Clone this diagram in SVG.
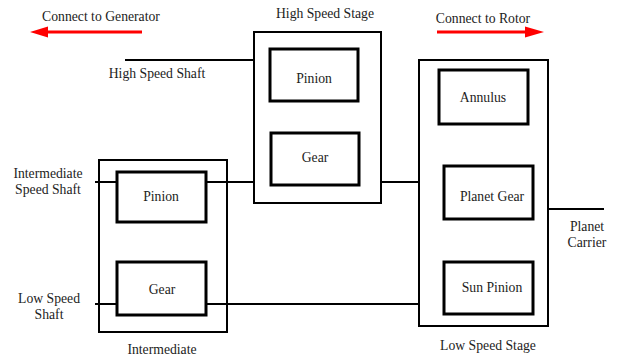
<svg xmlns="http://www.w3.org/2000/svg" width="619" height="358" viewBox="0 0 619 358" font-family="Liberation Serif, Times New Roman, serif">
<style>
text{font-family:"Liberation Serif","Times New Roman",Times,serif;font-size:13.7px;fill:#222;text-anchor:middle}
.outer{fill:none;stroke:#000;stroke-width:2}
.inner{fill:none;stroke:#000;stroke-width:3}
.shaft{stroke:#000;stroke-width:2;fill:none}
.red{stroke:#f00;stroke-width:3;fill:none}
</style>
<rect width="619" height="358" fill="#fff"/>
<g id="connectors">
<line class="shaft" x1="125" y1="60" x2="254" y2="60"/>
<line class="shaft" x1="95" y1="182" x2="117" y2="182"/>
<line class="shaft" x1="206" y1="182" x2="254" y2="182"/>
<line class="shaft" x1="95" y1="304" x2="117" y2="304"/>
<line class="shaft" x1="206" y1="304" x2="419" y2="304"/>
<line class="shaft" x1="381" y1="182" x2="419" y2="182"/>
<line class="shaft" x1="548" y1="209" x2="604" y2="209"/>
</g>
<g id="arrow-generator">
<line class="red" x1="142" y1="32" x2="46" y2="32"/>
<polygon points="30,32 48,26.5 48,37.5" fill="#f00"/>
<text x="101" y="21">Connect to Generator</text>
</g>
<g id="arrow-rotor">
<line class="red" x1="437" y1="32" x2="527" y2="32"/>
<polygon points="544,32 525,26.5 525,37.5" fill="#f00"/>
<text x="483" y="23">Connect to Rotor</text>
</g>
<g id="high-speed-stage">
<rect class="outer" x="254" y="32" width="127" height="171"/>
<text x="325" y="18">High Speed Stage</text>
</g>
<g id="hs-pinion">
<rect class="inner" x="270" y="49" width="88" height="52"/>
<text x="314" y="83">Pinion</text>
</g>
<g id="hs-gear">
<rect class="inner" x="271" y="133" width="88" height="52"/>
<text x="315" y="162">Gear</text>
</g>
<g id="intermediate-stage">
<rect class="outer" x="99" y="160" width="128" height="172"/>
<text x="162" y="354">Intermediate</text>
</g>
<g id="int-pinion">
<rect class="inner" x="117" y="172" width="89" height="50"/>
<text x="161" y="201">Pinion</text>
</g>
<g id="int-gear">
<rect class="inner" x="117" y="262" width="89" height="53"/>
<text x="162" y="294">Gear</text>
</g>
<g id="low-speed-stage">
<rect class="outer" x="419" y="60" width="129" height="266"/>
<text x="488" y="350">Low Speed Stage</text>
</g>
<g id="annulus">
<rect class="inner" x="439" y="70" width="89" height="54"/>
<text x="483" y="102">Annulus</text>
</g>
<g id="planet-gear">
<rect class="inner" x="444" y="166" width="89" height="53"/>
<text x="492" y="201">Planet Gear</text>
</g>
<g id="sun-pinion">
<rect class="inner" x="444" y="262" width="89" height="52"/>
<text x="492" y="292">Sun Pinion</text>
</g>
<g id="labels">
<text x="157" y="78">High Speed Shaft</text>
<text x="48" y="178">Intermediate</text>
<text x="48" y="194">Speed Shaft</text>
<text x="49" y="303">Low Speed</text>
<text x="49" y="319">Shaft</text>
<text x="587" y="231">Planet</text>
<text x="587" y="247">Carrier</text>
</g>
</svg>
